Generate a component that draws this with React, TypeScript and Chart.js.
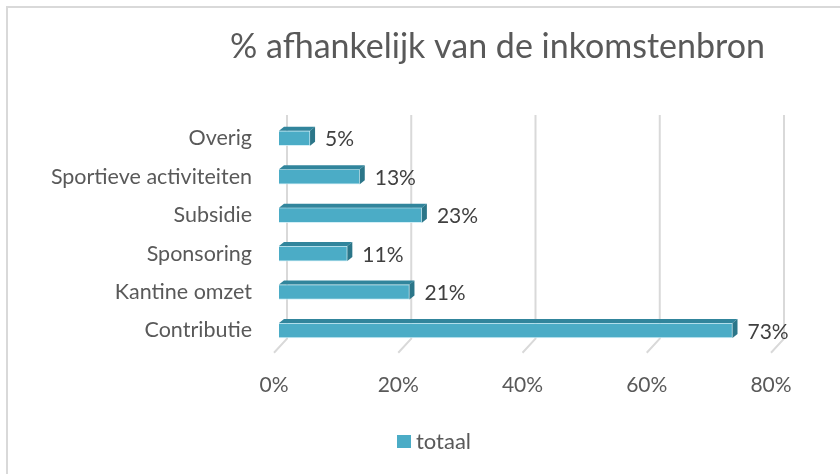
import React, { useEffect, useRef } from "react";
import { Chart, registerables } from "chart.js";

Chart.register(...registerables);

const categories = ["Overig", "Sportieve activiteiten", "Subsidie", "Sponsoring", "Kantine omzet", "Contributie"];
const totaal = [5, 13, 23, 11, 21, 73];
const xTickValues = [0, 20, 40, 60, 80];
const chartTitle = "% afhankelijk van de inkomstenbron";
const seriesName = "totaal";

const FONT = "Lato";
const TEXT = "#595959";
const FRONT = "#4BACC6";
const TOP = "#31859C";
const SIDE = "#2B7689";
const GRID = "#D9D9D9";

const decorPlugin = {
  id: "decor",
  beforeDraw(chart: any) {
    const ctx = chart.ctx;
    ctx.save();
    ctx.strokeStyle = GRID;
    ctx.lineWidth = 2;
    ctx.strokeRect(7, 7, 900, 600);
    ctx.restore();
  },
  beforeDatasetsDraw(chart: any) {
    const ctx = chart.ctx;
    const xs = chart.scales.x;
    const { top, bottom } = chart.chartArea;
    ctx.save();
    ctx.strokeStyle = GRID;
    ctx.lineWidth = 2;
    xTickValues.forEach((v) => {
      const px = xs.getPixelForValue(v);
      ctx.beginPath();
      ctx.moveTo(px + 8, top - 4);
      ctx.lineTo(px + 8, bottom - 11);
      ctx.lineTo(px - 5, bottom + 3);
      ctx.stroke();
    });
    ctx.restore();
  },
  afterDatasetsDraw(chart: any) {
    const ctx = chart.ctx;
    const meta = chart.getDatasetMeta(0);
    const dx = 5;
    const dy = 4;
    ctx.save();
    meta.data.forEach((bar: any, i: number) => {
      const h = bar.height;
      const t = bar.y - h / 2;
      const b = bar.y + h / 2;
      const x0 = bar.base;
      const x1 = bar.x;
      ctx.fillStyle = TOP;
      ctx.beginPath();
      ctx.moveTo(x0, t);
      ctx.lineTo(x1, t);
      ctx.lineTo(x1 + dx, t - dy);
      ctx.lineTo(x0 + dx, t - dy);
      ctx.closePath();
      ctx.fill();
      ctx.fillStyle = SIDE;
      ctx.beginPath();
      ctx.moveTo(x1, t);
      ctx.lineTo(x1 + dx, t - dy);
      ctx.lineTo(x1 + dx, b - dy);
      ctx.lineTo(x1, b);
      ctx.closePath();
      ctx.fill();
      ctx.fillStyle = "#404040";
      ctx.font = `21px ${FONT}`;
      ctx.textAlign = "left";
      ctx.textBaseline = "middle";
      ctx.fillText(`${totaal[i]}%`, x1 + 15, bar.y + 1.5);
    });
    ctx.restore();
  },
  afterDraw(chart: any) {
    const ctx = chart.ctx;
    ctx.save();
    ctx.fillStyle = TEXT;
    ctx.font = `34px ${FONT}`;
    ctx.textAlign = "center";
    ctx.textBaseline = "alphabetic";
    ctx.fillText(chartTitle, 497.5, 58);
    // legend
    ctx.fillStyle = FRONT;
    ctx.fillRect(397, 435, 14, 13);
    ctx.fillStyle = TEXT;
    ctx.font = `22px ${FONT}`;
    ctx.textAlign = "left";
    ctx.textBaseline = "middle";
    ctx.fillText(seriesName, 416, 442);
    ctx.restore();
  },
};

export default function App() {
  const ref = useRef<HTMLCanvasElement | null>(null);
  useEffect(() => {
    if (!ref.current) return;
    const chart = new Chart(ref.current, {
      type: "bar",
      data: {
        labels: categories,
        datasets: [
          {
            label: seriesName,
            data: totaal,
            backgroundColor: FRONT,
            borderColor: "rgba(200,235,245,0.8)",
            borderWidth: 1,
            barThickness: 15,
          },
        ],
      },
      options: {
        indexAxis: "y",
        responsive: false,
        animation: false,
        layout: { padding: { top: 119, right: 64, bottom: 0, left: 0 } },
        plugins: {
          legend: { display: false },
          title: { display: false },
          tooltip: { enabled: false },
        },
        scales: {
          x: {
            min: 0,
            max: 80,
            ticks: {
              stepSize: 20,
              callback: (v: any) => `${v}%`,
              labelOffset: -5,
              padding: 23,
              color: TEXT,
              font: { family: FONT, size: 21 },
            },
            grid: { display: false, drawTicks: false },
            border: { display: false },
            afterFit: (s: any) => {
              s.height = 124.3;
            },
          },
          y: {
            ticks: {
              padding: 27,
              color: TEXT,
              font: { family: FONT, size: 21.5 },
            },
            grid: { display: false, drawTicks: false },
            border: { display: false },
            afterFit: (s: any) => {
              s.width = 279;
            },
          },
        },
      },
      plugins: [decorPlugin],
    });
    return () => chart.destroy();
  }, []);
  return (
    <div style={{ position: "fixed", left: 0, top: 0, width: 840, height: 474, background: "#fff" }}>
      <canvas ref={ref} width={840} height={474} />
    </div>
  );
}
